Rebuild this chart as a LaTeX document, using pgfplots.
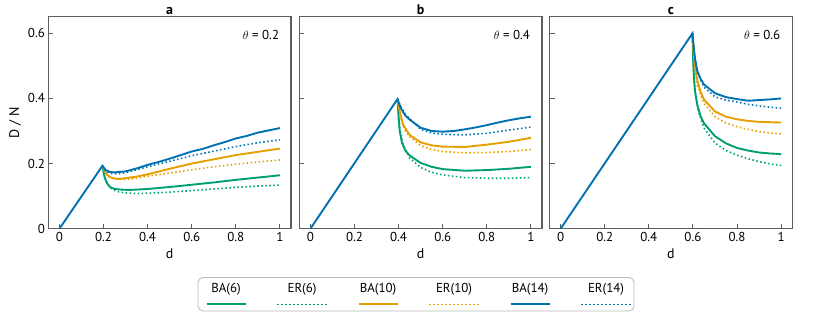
\documentclass[border=0pt]{standalone}
\usepackage{fontspec}
\setmainfont{PT Sans}
\usepackage{pgfplots}
\pgfplotsset{compat=1.18}
\definecolor{cgreen}{HTML}{009E73}
\definecolor{corange}{HTML}{E69F00}
\definecolor{cblue}{HTML}{0072B2}
\definecolor{framegray}{HTML}{5E5E5E}

\pgfplotsset{
  panel/.style={
    scale only axis, width=242.5bp, height=212bp, anchor=south west,
    xmin=-0.05, xmax=1.05, ymin=0, ymax=0.651,
    xtick={0,0.2,0.4,0.6,0.8,1}, ytick={0,0.2,0.4,0.6},
    tick align=inside, tick pos=left, major tick length=5bp,
    axis line style={draw=framegray, line width=1.2bp},
    tick style={draw=framegray, line width=1bp},
    every tick label/.append style={font=\fontsize{13}{15}\selectfont, text=black},
    /pgf/number format/assume math mode=true,
    xlabel={d},
    label style={font=\fontsize{14}{16}\selectfont},
    every axis title shift=0pt,
    title style={font=\fontsize{14}{16}\selectfont\bfseries, inner sep=0pt, yshift=1.5bp},
  },
  solidleg/.style={legend image code/.code={
      \path[draw=none] (0,10bp) -- (0,-20.5bp);
      \draw[overlay] (5.5bp,-15.5bp) -- ++(39bp,0);}},
  dotleg/.style={legend image code/.code={
      \path[draw=none] (0,10bp) -- (0,-20.5bp);
      \draw[overlay] (0bp,-15.5bp) -- ++(50bp,0);}},
  ba/.style={color=#1, line width=1.9bp, solidleg},
  er/.style={color=#1, line width=1.6bp, dash pattern=on 1.5bp off 2.5bp, dotleg},
}
\newcommand{\thetalabel}[1]{\node[anchor=base east, inner sep=0pt, font=\fontsize{13}{15}\selectfont]
  at (rel axis cs:0.952,0.893) {$\theta$ = #1};}

\begin{document}
\begin{tikzpicture}[x=1bp,y=1bp]
\path[use as bounding box] (0,0) rectangle (822,321);

% panel a, theta = 0.2
\begin{axis}[panel, at={(48.4bp,92.3bp)}, title={a}, ylabel={D / N}]
\addplot[er=cgreen] coordinates {(0.195,0.193) (0.205,0.16) (0.22,0.135) (0.24,0.12) (0.27,0.113) (0.3,0.11) (0.35,0.108) (0.4,0.109) (0.5,0.112) (0.6,0.117) (0.7,0.122) (0.8,0.127) (0.9,0.131) (1,0.134)};
\addplot[ba=cgreen] coordinates {(0.195,0.193) (0.2,0.175) (0.205,0.158) (0.215,0.14) (0.23,0.128) (0.25,0.122) (0.28,0.12) (0.32,0.119) (0.4,0.122) (0.5,0.128) (0.6,0.135) (0.7,0.142) (0.8,0.15) (0.9,0.157) (1,0.164)};
\addplot[er=corange] coordinates {(0.195,0.193) (0.21,0.17) (0.23,0.158) (0.26,0.152) (0.3,0.151) (0.35,0.155) (0.4,0.161) (0.5,0.171) (0.6,0.181) (0.7,0.19) (0.8,0.198) (0.9,0.205) (1,0.211)};
\addplot[ba=corange] coordinates {(0.195,0.193) (0.205,0.178) (0.215,0.166) (0.23,0.158) (0.25,0.154) (0.27,0.153) (0.3,0.155) (0.35,0.16) (0.4,0.167) (0.5,0.184) (0.6,0.2) (0.7,0.213) (0.8,0.226) (0.9,0.236) (1,0.246)};
\addplot[er=cblue] coordinates {(0.195,0.193) (0.21,0.176) (0.23,0.17) (0.26,0.168) (0.3,0.172) (0.35,0.181) (0.4,0.19) (0.5,0.207) (0.6,0.224) (0.7,0.238) (0.8,0.252) (0.9,0.264) (1,0.273)};
\addplot[ba=cblue] coordinates {(0,0) (0.195,0.193) (0.21,0.18) (0.23,0.174) (0.25,0.173) (0.3,0.176) (0.35,0.185) (0.4,0.196) (0.45,0.205) (0.5,0.215) (0.55,0.226) (0.6,0.237) (0.65,0.245) (0.7,0.256) (0.75,0.266) (0.8,0.277) (0.85,0.285) (0.9,0.295) (0.95,0.302) (1,0.309)};
\thetalabel{0.2}
\end{axis}

% panel b, theta = 0.4
\begin{axis}[panel, at={(299.4bp,92.3bp)}, title={b}, yticklabels={},
  legend columns=6, legend plot pos=left, legend cell align=left,
  legend style={at={(0.481,-0.228)}, anchor=north, draw=gray!55, line width=0.8bp,
    rounded corners=5bp, inner xsep=3bp, inner ysep=1.5bp,
    font=\fontsize{13}{15}\selectfont,
    nodes={inner sep=0pt, text width=50bp, align=center},
    /tikz/every odd column/.style={column sep=0pt},
    /tikz/every even column/.style={column sep=26bp}}]
\addplot[ba=cgreen] coordinates {(0.395,0.398) (0.4,0.34) (0.405,0.3) (0.415,0.265) (0.43,0.24) (0.45,0.225) (0.5,0.202) (0.55,0.19) (0.6,0.183) (0.7,0.178) (0.8,0.18) (0.9,0.184) (1,0.19)};
\addlegendentry{BA(6)}
\addplot[er=cgreen] coordinates {(0.395,0.398) (0.405,0.31) (0.42,0.26) (0.45,0.217) (0.5,0.188) (0.55,0.173) (0.6,0.165) (0.7,0.157) (0.8,0.155) (0.9,0.155) (1,0.157)};
\addlegendentry{ER(6)}
\addplot[ba=corange] coordinates {(0.395,0.398) (0.405,0.36) (0.42,0.32) (0.45,0.288) (0.5,0.265) (0.55,0.256) (0.6,0.252) (0.7,0.251) (0.8,0.258) (0.9,0.267) (1,0.279)};
\addlegendentry{BA(10)}
\addplot[er=corange] coordinates {(0.395,0.398) (0.41,0.34) (0.43,0.3) (0.45,0.283) (0.5,0.255) (0.55,0.243) (0.6,0.237) (0.7,0.233) (0.8,0.234) (0.9,0.237) (1,0.243)};
\addlegendentry{ER(10)}
\addplot[ba=cblue] coordinates {(0,0) (0.395,0.398) (0.41,0.37) (0.43,0.348) (0.45,0.335) (0.5,0.31) (0.55,0.3) (0.6,0.298) (0.65,0.3) (0.7,0.305) (0.75,0.311) (0.8,0.318) (0.85,0.326) (0.9,0.333) (0.95,0.339) (1,0.344)};
\addlegendentry{BA(14)}
\addplot[er=cblue] coordinates {(0.395,0.398) (0.41,0.375) (0.43,0.352) (0.45,0.338) (0.5,0.305) (0.55,0.294) (0.6,0.29) (0.7,0.288) (0.8,0.293) (0.9,0.303) (1,0.312)};
\addlegendentry{ER(14)}
\thetalabel{0.4}
\end{axis}

% panel c, theta = 0.6
\begin{axis}[panel, at={(549.6bp,92.3bp)}, title={c}, yticklabels={}]
\addplot[er=cgreen] coordinates {(0.598,0.6) (0.603,0.48) (0.61,0.42) (0.625,0.36) (0.65,0.31) (0.7,0.263) (0.75,0.24) (0.8,0.226) (0.85,0.215) (0.9,0.206) (0.95,0.199) (1,0.194)};
\addplot[ba=cgreen] coordinates {(0.598,0.6) (0.601,0.52) (0.605,0.46) (0.61,0.42) (0.62,0.38) (0.635,0.345) (0.65,0.324) (0.7,0.284) (0.75,0.262) (0.8,0.248) (0.85,0.24) (0.9,0.234) (0.95,0.231) (1,0.229)};
\addplot[er=corange] coordinates {(0.598,0.6) (0.605,0.52) (0.62,0.44) (0.65,0.385) (0.7,0.344) (0.75,0.325) (0.8,0.313) (0.85,0.305) (0.9,0.298) (0.95,0.294) (1,0.291)};
\addplot[ba=corange] coordinates {(0.598,0.6) (0.603,0.54) (0.61,0.495) (0.62,0.455) (0.635,0.42) (0.65,0.397) (0.7,0.36) (0.75,0.344) (0.8,0.336) (0.85,0.331) (0.9,0.328) (0.95,0.327) (1,0.326)};
\addplot[er=cblue] coordinates {(0.598,0.6) (0.605,0.54) (0.62,0.48) (0.65,0.435) (0.7,0.405) (0.75,0.395) (0.8,0.389) (0.85,0.382) (0.9,0.377) (0.95,0.373) (1,0.37)};
\addplot[ba=cblue] coordinates {(0,0) (0.598,0.6) (0.605,0.55) (0.61,0.52) (0.62,0.484) (0.635,0.46) (0.65,0.443) (0.7,0.416) (0.75,0.404) (0.8,0.398) (0.85,0.393) (0.9,0.395) (0.95,0.397) (1,0.4)};
\thetalabel{0.6}
\end{axis}
\end{tikzpicture}
\end{document}
